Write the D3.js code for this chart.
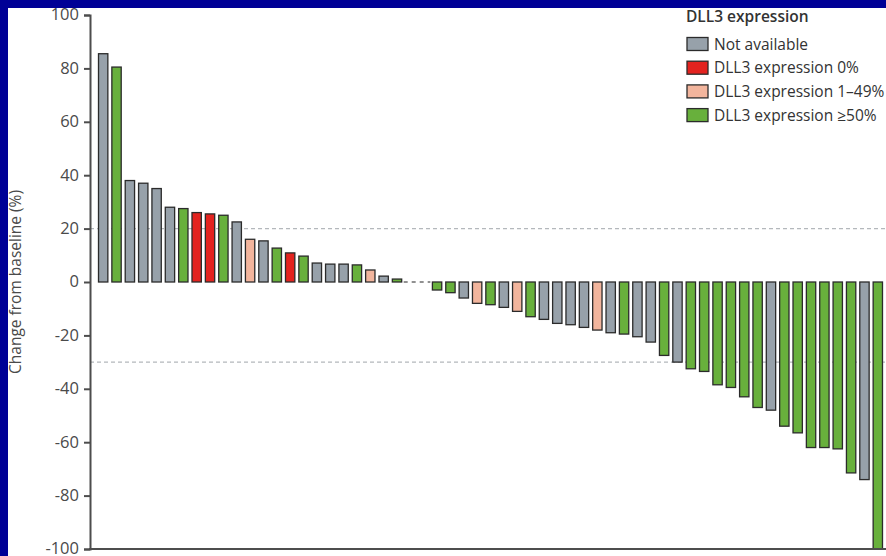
<!DOCTYPE html>
<html>
<head>
<meta charset="utf-8">
<script src="https://cdn.jsdelivr.net/npm/d3@7"></script>
<style>
  html, body { margin: 0; padding: 0; background: #000096; }
  svg { display: block; }
  text { font-family: "Open Sans", "Noto Sans", sans-serif; }
</style>
</head>
<body>
<svg id="chart" width="886" height="556"></svg>
<script>
// Best percentage change from baseline per patient, sorted high to low
const changes = [85.5, 80.5, 38, 37, 35, 28, 27.5, 26, 25.5, 25, 22.5, 16, 15.4, 12.7, 10.9, 9.7,
  7.1, 6.7, 6.7, 6.4, 4.5, 2.2, 1.1, 0, 0,
  -3, -4, -6, -8, -8.5, -9.5, -11, -13, -14, -15.5, -16, -17, -18, -19, -19.5, -20.5, -22.5,
  -27.5, -30, -32.5, -33.5, -38.5, -39.5, -43, -47, -48, -54, -56.5, -62, -62, -62.5, -71.5, -74, -100];

// DLL3 expression group for each patient (same order as changes)
const groups = ["na", "high", "na", "na", "na", "na", "high", "zero", "zero", "high", "na", "low", "na", "high",
  "zero", "high", "na", "na", "na", "high", "low", "na", "high", "na", "na",
  "high", "high", "na", "low", "high", "na", "low", "high", "na", "na", "na", "na", "low", "na", "high",
  "na", "na", "high", "na", "high", "high", "high", "high", "high", "high", "na", "high", "high", "high",
  "high", "high", "high", "na", "high"];

const groupKeys = ["na", "zero", "low", "high"];
const groupLabels = ["Not available", "DLL3 expression 0%", "DLL3 expression 1–49%", "DLL3 expression ≥50%"];
const groupColors = ["#97a1aa", "#e3231f", "#f2b59d", "#68b03c"];

const yTicks = [100, 80, 60, 40, 20, 0, -20, -40, -60, -80, -100];
const thresholds = [20, -30];

const patients = changes.map((v, i) => ({ id: i, value: v, group: groups[i] }));

const svg = d3.select("#chart");

// white panel inside the blue frame
svg.append("rect").attr("x", 8).attr("y", 8).attr("width", 878).attr("height", 548).attr("fill", "#ffffff");

const y = d3.scaleLinear().domain([-100, 100]).range([549, 15]);
const x = d3.scaleBand().domain(patients.map(d => d.id)).range([96.5, 884.5])
  .paddingInner(0.3).paddingOuter(0.15);
const color = d3.scaleOrdinal().domain(groupKeys).range(groupColors);

const axisX = 90;
const plotRight = 886;

// reference thresholds (+20% and -30%)
svg.append("g").selectAll("line").data(thresholds).join("line")
  .attr("x1", axisX).attr("x2", plotRight)
  .attr("y1", d => y(d)).attr("y2", d => y(d))
  .attr("stroke", "#b4b8bc").attr("stroke-width", 1.1).attr("stroke-dasharray", "4,3");

// zero line across the stretch of patients with no change
const zeros = patients.filter(d => d.value === 0);
if (zeros.length) {
  const before = patients[zeros[0].id - 1];
  const after = patients[zeros[zeros.length - 1].id + 1];
  svg.append("line")
    .attr("x1", x(before.id) + x.bandwidth() + 2).attr("x2", x(after.id) - 2)
    .attr("y1", y(0)).attr("y2", y(0))
    .attr("stroke", "#6d6d6d").attr("stroke-width", 1.3).attr("stroke-dasharray", "4,4");
}

// bars
svg.append("g").selectAll("rect").data(patients.filter(d => d.value !== 0)).join("rect")
  .attr("x", d => x(d.id))
  .attr("width", x.bandwidth())
  .attr("y", d => y(Math.max(0, d.value)))
  .attr("height", d => Math.abs(y(d.value) - y(0)))
  .attr("fill", d => color(d.group))
  .attr("stroke", "#2b2b2b").attr("stroke-width", 1.3);

// y axis
const yAxis = d3.axisLeft(y).tickValues(yTicks).tickSize(6).tickPadding(5)
  .tickFormat(d => d < 0 ? "-" + Math.abs(d) : d);
const gy = svg.append("g").attr("transform", `translate(${axisX},0)`).call(yAxis);
gy.select(".domain").attr("stroke", "#4d4d4d").attr("stroke-width", 2);
gy.selectAll(".tick line").attr("stroke", "#4d4d4d").attr("stroke-width", 2);
gy.selectAll(".tick text").attr("fill", "#4a4a4a").style("font-size", "16.5px")
  .attr("dy", "0.3em")
  .style("font-family", "'Open Sans', sans-serif");

// baseline of the plot at -100
svg.append("line").attr("x1", axisX - 1).attr("x2", plotRight)
  .attr("y1", y(-100)).attr("y2", y(-100))
  .attr("stroke", "#4d4d4d").attr("stroke-width", 2);

// y axis title
svg.append("text")
  .attr("transform", `translate(21,${y(0)}) rotate(-90)`)
  .attr("text-anchor", "middle")
  .attr("fill", "#4a4a4a").style("font-size", "15.5px")
  .text("Change from baseline (%)");

// legend
const legend = svg.append("g").attr("transform", "translate(686,0)");
legend.append("text").attr("x", 0).attr("y", 22)
  .attr("fill", "#333").style("font-size", "15.5px").style("font-weight", "600")
  .text("DLL3 expression");
const rows = legend.selectAll("g.row").data(groupKeys).join("g")
  .attr("class", "row")
  .attr("transform", (d, i) => `translate(0,${44 + i * 23.7})`);
rows.append("rect").attr("x", 1).attr("y", -6.5).attr("width", 21).attr("height", 13)
  .attr("fill", d => color(d)).attr("stroke", "#2b2b2b").attr("stroke-width", 1.3);
rows.append("text").attr("x", 28).attr("y", 5.5)
  .attr("fill", "#333").style("font-size", "15.5px")
  .text((d, i) => groupLabels[i]);
</script>
</body>
</html>
